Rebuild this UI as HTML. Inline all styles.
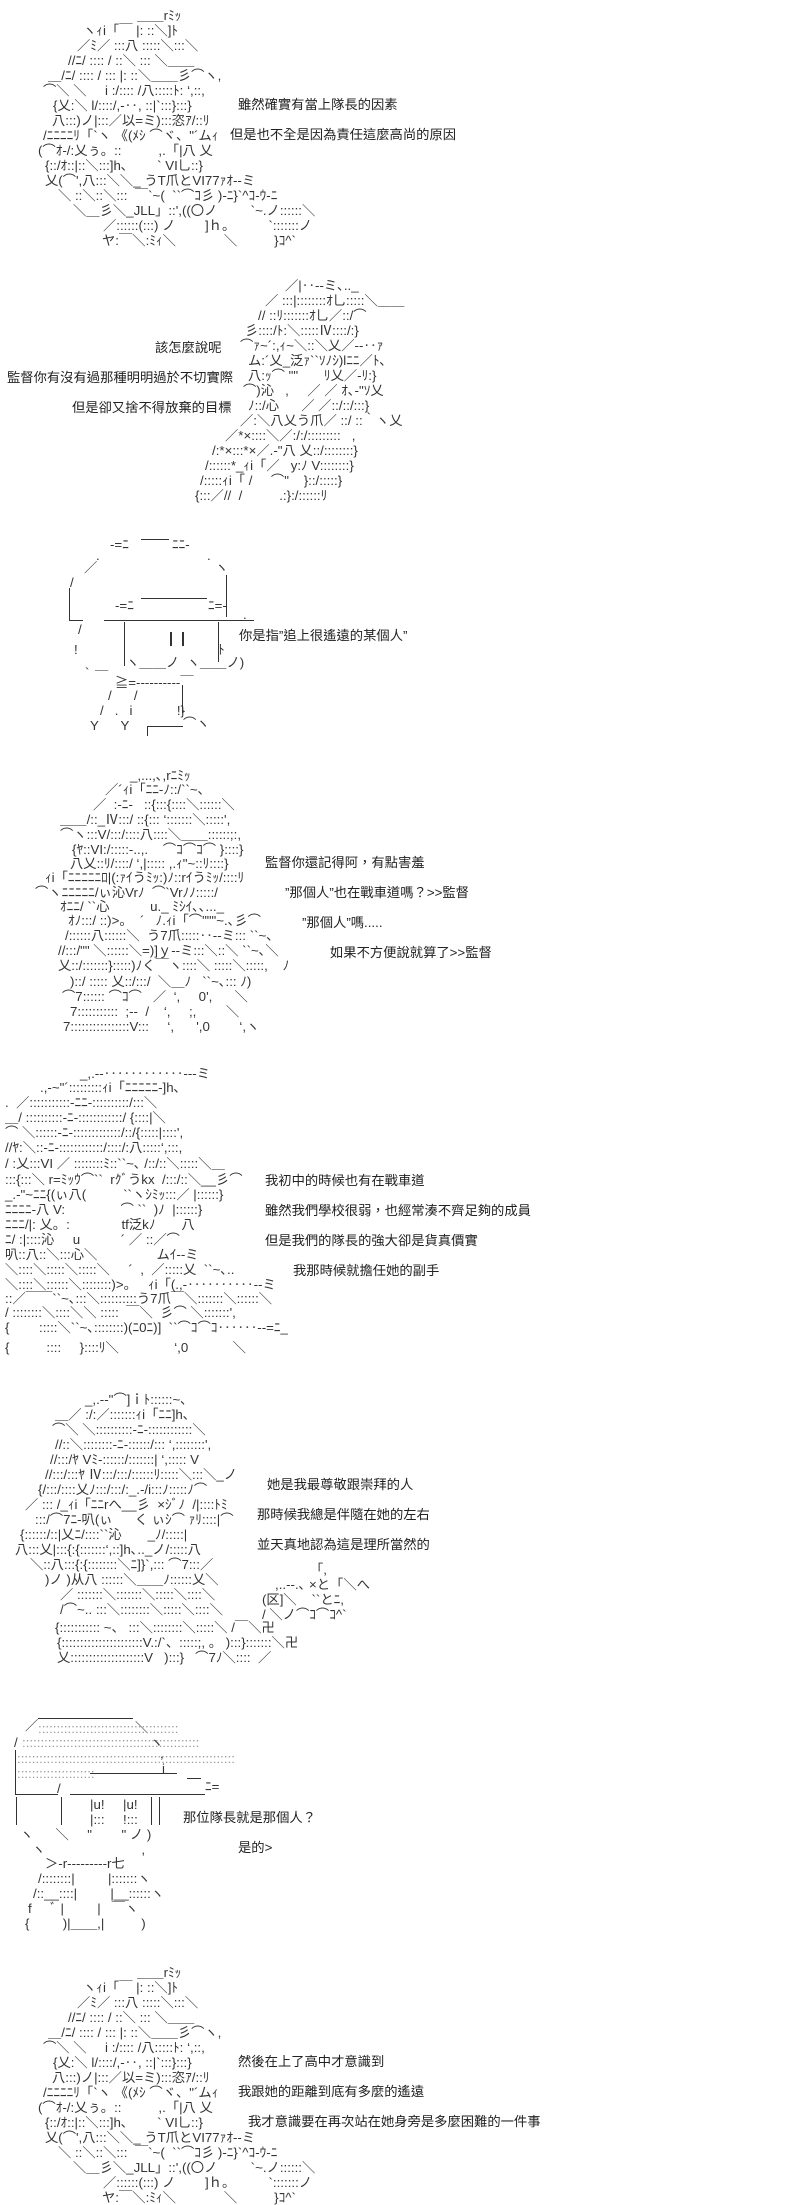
<!DOCTYPE html>
<html><head><meta charset="utf-8">
<style>
html,body{margin:0;padding:0;background:#fff;}
body{width:800px;height:2199px;position:relative;overflow:hidden;}
.l{position:absolute;white-space:pre;font:13.3px/15px "Liberation Sans","Noto Sans CJK JP",sans-serif;color:#333;}
.t{position:absolute;white-space:pre;font:13.3px/15px "Liberation Sans","Noto Sans CJK TC",sans-serif;color:#222;}
.h{position:absolute;border-top:1px solid #333;height:0;}
.v{position:absolute;border-left:1px solid #333;width:0;}
</style></head><body>

<!-- Panel 1 -->
<div class="l" style="left:137px;top:8px">＿＿rﾐｯ</div>
<div class="l" style="left:83px;top:23px">ヽｨi「￣ |: ::＼]ﾄ</div>
<div class="l" style="left:77px;top:38px">／ﾐ／ :::八 :::::＼:::＼</div>
<div class="l" style="left:68px;top:53px">//ﾆ/ :::: / ::＼ ::: ＼＿＿</div>
<div class="l" style="left:48px;top:68px">＿/ﾆ/ :::: / ::: |: ::＼＿＿彡⌒ヽ,</div>
<div class="l" style="left:43px;top:83px">⌒＼ ＼     i :/:::: /八:::::ﾄ: ‘,::,</div>
<div class="l" style="left:53px;top:98px">{乂:＼ l/::::/,-‥, ::|`:::}:::}</div>
<div class="l" style="left:52px;top:113px">八:::)ノ|:::／以=ミ):::恣ｱ/::ﾘ</div>
<div class="l" style="left:43px;top:128px">/ﾆﾆﾆﾆﾘ「`ヽ 《(ﾒｼ ⌒ヾ、"´ムｨ</div>
<div class="l" style="left:38px;top:143px">(⌒ｵ-/:乂ぅ。::          ,.「|八 乂</div>
<div class="l" style="left:45px;top:158px">{::/ｵ::|::＼:::]h､        ` VI乚::}</div>
<div class="l" style="left:45px;top:173px">乂(⌒',八:::＼＼_ うT爪とVI77ｧｵ--ミ</div>
<div class="l" style="left:58px;top:188px">＼ ::＼::＼:::  ￣`~(  ``⌒ｺ彡 )-ﾆ}`^ｺ‐ｳ-ﾆ</div>
<div class="l" style="left:73px;top:203px">＼＿彡＼_JLL」::',((〇ノ         `~.ノ::::::＼</div>
<div class="l" style="left:103px;top:218px">／::::::(:::) ノ        ]ｈ。         `:::::::ノ</div>
<div class="l" style="left:102px;top:233px">ヤ:￣＼:ﾐｨ＼             ＼          }ｺ^`</div>
<div class="t" style="left:238px;top:97px">雖然確實有當上隊長的因素</div>
<div class="t" style="left:230px;top:127px">但是也不全是因為責任這麼高尚的原因</div>

<!-- Panel 2 -->
<div class="l" style="left:285px;top:278px">／|‥--ミ､.._</div>
<div class="l" style="left:265px;top:293px">／ :::|::::::::ｵ乚:::::＼＿＿</div>
<div class="l" style="left:258px;top:308px">// ::ﾘ:::::::ｵ乚／::/⌒</div>
<div class="l" style="left:245px;top:323px">彡::::/ﾄ:＼:::::Ⅳ::::/:}</div>
<div class="l" style="left:240px;top:338px">⌒ｧ~´:,ｨ~＼::＼乂／--‥ｧ</div>
<div class="l" style="left:248px;top:353px">ム:´乂_泛ｧ``ｿﾉｼ)lﾆﾆ／ﾄ､</div>
<div class="l" style="left:248px;top:368px">八:ｯ⌒ ""       ﾘ乂／-ﾘ:}</div>
<div class="l" style="left:243px;top:383px">⌒)沁   ,     ／ ／ ｵ､-"ｿ乂</div>
<div class="l" style="left:248px;top:398px">ﾉ::/心      ／ ／::/::/:::}</div>
<div class="l" style="left:240px;top:413px">／:＼八乂う爪／ ::/ ::｀ヽ乂</div>
<div class="l" style="left:225px;top:428px">／*×::::＼／:/:/:::::::::   ,</div>
<div class="l" style="left:212px;top:443px">/:*×:::*×／.-"八 乂::/::::::::}</div>
<div class="l" style="left:205px;top:458px">/::::::*_ｨi「／   y:ﾉ V::::::::}</div>
<div class="l" style="left:200px;top:473px">/:::::ｨi「 /     ⌒"    }::/:::::}</div>
<div class="l" style="left:195px;top:488px">{:::／//  /          .:}:/::::::ﾘ</div>
<div class="t" style="left:155px;top:340px">該怎麼說呢</div>
<div class="t" style="left:7px;top:370px">監督你有沒有過那種明明過於不切實際</div>
<div class="t" style="left:72px;top:400px">但是卻又捨不得放棄的目標</div>

<!-- Panel 3 -->
<div class="l" style="left:110px;top:537px">-=ﾆ</div>
<div class="h" style="left:141px;top:539px;width:28px"></div>
<div class="l" style="left:172px;top:537px">ﾆﾆ-</div>
<div class="l" style="left:96px;top:548px">.</div>
<div class="l" style="left:207px;top:548px">.</div>
<div class="l" style="left:215px;top:560px">ヽ</div>
<div class="l" style="left:84px;top:560px">／</div>
<div class="l" style="left:70px;top:575px">/</div>
<div class="v" style="left:226px;top:575px;height:42px"></div>
<div class="v" style="left:69px;top:588px;height:32px"></div>
<div class="l" style="left:115px;top:598px">-=ﾆ</div>
<div class="h" style="left:141px;top:598px;width:66px"></div>
<div class="l" style="left:208px;top:598px">ﾆ=-</div>
<div class="l" style="left:243px;top:607px">.</div>
<div class="h" style="left:69px;top:620px;width:14px"></div>
<div class="h" style="left:104px;top:620px;width:150px"></div>
<div class="v" style="left:124px;top:622px;height:44px"></div>
<div class="v" style="left:218px;top:622px;height:40px"></div>
<div class="v" style="left:170px;top:632px;height:14px;border-left-width:2px"></div>
<div class="v" style="left:182px;top:632px;height:14px;border-left-width:2px"></div>
<div class="l" style="left:78px;top:622px">/</div>
<div class="l" style="left:74px;top:642px">!</div>
<div class="l" style="left:218px;top:642px">ﾄ</div>
<div class="l" style="left:126px;top:655px">ヽ＿＿ノ  ヽ＿＿ノ)</div>
<div class="l" style="left:85px;top:665px">`</div>
<div class="l" style="left:95px;top:670px">￣</div>
<div class="l" style="left:115px;top:675px">≧=----------￣</div>
<div class="v" style="left:182px;top:685px;height:28px"></div>
<div class="l" style="left:108px;top:688px">/      /</div>
<div class="l" style="left:100px;top:703px">/   .   i            !}</div>
<div class="l" style="left:90px;top:718px">Y      Y</div>
<div class="h" style="left:147px;top:726px;width:36px"></div>
<div class="v" style="left:147px;top:726px;height:10px"></div>
<div class="l" style="left:183px;top:716px">⌒ヽ</div>
<div class="t" style="left:239px;top:628px">你是指”追上很遙遠的某個人”</div>

<!-- Panel 4 -->
<div class="l" style="left:130px;top:768px">_,...,､,rﾆﾐｯ</div>
<div class="l" style="left:105px;top:782px">／´ｨi「ﾆﾆ-ﾉ::/``~､</div>
<div class="l" style="left:93px;top:797px">／  :-ﾆ-   ::{:::{::::＼::::::＼</div>
<div class="l" style="left:60px;top:812px">＿＿/::_Ⅳ:::/ ::{::: ‘:::::::＼:::::',</div>
<div class="l" style="left:60px;top:827px">⌒ヽ:::V/:::/::::八::::＼＿＿::::::;:,</div>
<div class="l" style="left:72px;top:842px">{ﾔ::VI:/:::::-..,.    ⌒ｺ⌒ｺ⌒ }::::}</div>
<div class="l" style="left:70px;top:856px">八乂::ﾘ/::::/ ‘,|::::: ,.ｨ"~::ﾘ::::}</div>
<div class="l" style="left:45px;top:870px">ｨi「ﾆﾆﾆﾆﾆﾛ|(:ｧｲうﾐｯ:)ﾉ::rｲうﾐｯ/::::ﾘ</div>
<div class="l" style="left:35px;top:885px">⌒ヽﾆﾆﾆﾆﾆ/ぃ沁Vrﾉ  ⌒`Vrﾉﾉ:::::/</div>
<div class="l" style="left:60px;top:899px">ｵﾆﾆ/ ``心           u._ ﾐｼｲ､､..._</div>
<div class="l" style="left:68px;top:913px">ｵﾉ:::/ ::)>。  ´   ﾉ.ｨi「⌒"""~.､彡⌒</div>
<div class="l" style="left:65px;top:928px">/::::::八::::::＼  う7爪:::::‥--ミ::: ``~､</div>
<div class="l" style="left:58px;top:943px">//:::/"" ＼::::::＼=)]ｙ--ミ:::＼::＼ ``~､＼</div>
<div class="l" style="left:58px;top:958px">乂::/:::::::}:::::)ﾉく￣ヽ::::＼ :::::＼:::::,    ﾉ</div>
<div class="l" style="left:70px;top:974px">)::/ ::::: 乂::/:::/  ＼＿ﾉ   ``~､::: ﾉ)</div>
<div class="l" style="left:62px;top:989px">⌒7:::::: ⌒ｺ⌒   ／  ‘,     0',      ＼</div>
<div class="l" style="left:70px;top:1004px">7:::::::::::  ;--  /    ‘,     ;,        ＼</div>
<div class="l" style="left:63px;top:1019px">7::::::::::::::::V:::     ‘,      ',0        ‘,ヽ</div>
<div class="t" style="left:265px;top:855px">監督你還記得阿，有點害羞</div>
<div class="t" style="left:285px;top:885px">”那個人”也在戰車道嗎？&gt;&gt;監督</div>
<div class="t" style="left:302px;top:915px">”那個人”嗎.....</div>
<div class="t" style="left:330px;top:945px">如果不方便說就算了&gt;&gt;監督</div>

<!-- Panel 5 -->
<div class="l" style="left:80px;top:1066px">_,.--‥‥‥‥‥‥---ミ</div>
<div class="l" style="left:40px;top:1080px">.,-~"´:::::::::ｨi「ﾆﾆﾆﾆﾆ-]h､</div>
<div class="l" style="left:5px;top:1095px">.  ／:::::::::::-ﾆﾆ-::::::::::/:::＼</div>
<div class="l" style="left:5px;top:1110px">＿/ ::::::::::-ﾆ-::::::::::::/ {::::|＼</div>
<div class="l" style="left:5px;top:1125px">⌒ ＼::::::-ﾆ-:::::::::::::/::/{:::::|::::',</div>
<div class="l" style="left:5px;top:1140px">//ﾔ:＼::-ﾆ-::::::::::::/::::/:八:::::‘,:::,</div>
<div class="l" style="left:5px;top:1156px">/ :乂:::VI ／ ::::::::ﾐ::``~､ /::/::＼:::::＼＿</div>
<div class="l" style="left:5px;top:1172px">:::{:::＼ r=ﾐｯｳ⌒``  rｸﾞうkx  /:::/::＼__彡⌒</div>
<div class="l" style="left:5px;top:1187px">_.-"~ﾆﾆ{(ぃ八(          ``ヽｼﾐｯ:::／ |::::::}</div>
<div class="l" style="left:5px;top:1202px">ﾆﾆﾆﾆ-八 V:               ⌒ ``  )ﾉ  |::::::}</div>
<div class="l" style="left:5px;top:1217px">ﾆﾆﾆ/|: 乂。:              tf泛kﾉ       八</div>
<div class="l" style="left:5px;top:1232px">ﾆ/ :|::::沁     u           ´ ／ ::／⌒</div>
<div class="l" style="left:5px;top:1247px">叭::八::＼:::心＼                ムｲ--ミ</div>
<div class="l" style="left:5px;top:1262px">＼::::＼:::::＼:::::＼     ´  ,  ／:::::乂  ``~､..</div>
<div class="l" style="left:5px;top:1277px">＼::::＼::::::＼::::::::)>。   ｨi「(.,-‥‥‥‥‥--ミ</div>
<div class="l" style="left:5px;top:1291px">::／￣￣``~､:::＼::::::::::う7爪￣＼:::::::＼::::::＼</div>
<div class="l" style="left:5px;top:1305px">/ ::::::::＼::::＼＼ :::::  ￣＼  彡⌒ ＼:::::::',</div>
<div class="l" style="left:5px;top:1320px">{        :::::＼``~､::::::::)(ﾆ0ﾆ)]  ``⌒ｺ⌒ｺ‥‥‥--=ﾆ_</div>
<div class="l" style="left:5px;top:1340px">{          ::::     }::::ﾘ＼               ‘,0            ＼</div>
<div class="t" style="left:265px;top:1173px">我初中的時候也有在戰車道</div>
<div class="t" style="left:265px;top:1203px">雖然我們學校很弱，也經常湊不齊足夠的成員</div>
<div class="t" style="left:265px;top:1233px">但是我們的隊長的強大卻是貨真價實</div>
<div class="t" style="left:293px;top:1263px">我那時候就擔任她的副手</div>

<!-- Panel 6 -->
<div class="l" style="left:85px;top:1392px">_,.-‐"⌒]ｉﾄ::::::~､</div>
<div class="l" style="left:55px;top:1407px">＿／ :/:／:::::::ｨi「ﾆﾆ]h､</div>
<div class="l" style="left:52px;top:1422px">⌒＼ ＼::::::::::-ﾆ-::::::::::::＼</div>
<div class="l" style="left:55px;top:1437px">//::＼::::::::-ﾆ-::::::/::: ‘,::::::::',</div>
<div class="l" style="left:50px;top:1452px">//:::/ﾔ Vﾐ-::::::/:::::::| ‘,::::: V</div>
<div class="l" style="left:45px;top:1467px">//:::/:::ﾔ Ⅳ:::/:::/::::::ﾘ:::::＼:::＼_ノ</div>
<div class="l" style="left:38px;top:1482px">{/:::/::::乂ﾉ:::/:::/:_.-/i:::ﾉ:::::ﾉ⌒</div>
<div class="l" style="left:25px;top:1497px">／ ::: /_ｨi「ﾆﾆrへ__彡  ×ｼﾞﾉ  /|::::ﾄﾐ</div>
<div class="l" style="left:35px;top:1512px">:::/⌒7ﾆ-叭(ぃ      く ぃｼ⌒ ｧﾘ::::|⌒</div>
<div class="l" style="left:20px;top:1527px">{::::::/::|乂ﾆ/::::``沁       _ﾉ/:::::|</div>
<div class="l" style="left:15px;top:1542px">八:::乂|:::{:{:::::::‘,::]h､.._ノ/:::::八</div>
<div class="l" style="left:30px;top:1557px">＼::八:::{:{::::::::＼ﾆ]}`,::: ⌒7:::／</div>
<div class="l" style="left:45px;top:1572px">)ノ )从八 ::::::＼＿＿ﾉ::::::乂＼</div>
<div class="l" style="left:60px;top:1587px">／ :::::::＼:::::::＼:::::＼::::＼</div>
<div class="l" style="left:60px;top:1602px">/⌒~.. :::＼::::::::＼:::::＼::::＼</div>
<div class="l" style="left:55px;top:1620px">{::::::::::: ~、 :::＼::::::::＼:::::＼ /￣＼卍</div>
<div class="l" style="left:57px;top:1635px">{::::::::::::::::::::::V.:/`、:::::;, 。 ):::}:::::::＼卍</div>
<div class="l" style="left:57px;top:1650px">乂::::::::::::::::::::V   ):::}   ⌒7ﾉ＼::::  ／</div>
<div class="l" style="left:310px;top:1562px">「,</div>
<div class="l" style="left:275px;top:1577px">,..--.､ ×と「＼へ</div>
<div class="l" style="left:262px;top:1592px">(区]＼    ``とﾆ,</div>
<div class="l" style="left:262px;top:1607px">/ ＼ノ⌒ｺ⌒ｺ^`</div>
<div class="t" style="left:267px;top:1477px">她是我最尊敬跟崇拜的人</div>
<div class="t" style="left:257px;top:1507px">那時候我總是伴隨在她的左右</div>
<div class="t" style="left:257px;top:1537px">並天真地認為這是理所當然的</div>

<!-- Panel 7 -->
<div class="h" style="left:38px;top:1718px;width:95px"></div>
<div class="l" style="left:25px;top:1718px">／</div>
<div class="l" style="left:135px;top:1720px">＼</div>
<div class="l" style="left:38px;top:1721px;color:#999">::::::::::::::::::::::::::::::::::::::</div>
<div class="l" style="left:14px;top:1735px">/</div>
<div class="l" style="left:150px;top:1735px">ヽ</div>
<div class="l" style="left:22px;top:1735px;color:#999">::::::::::::::::::::::::::::::::::::::::::::::::</div>
<div class="v" style="left:15px;top:1750px;height:45px"></div>
<div class="l" style="left:17px;top:1751px;color:#999">:::::::::::::::::::::::::::::::::::::::::::::::::::::::::::</div>
<div class="l" style="left:160px;top:1746px">,</div>
<div class="l" style="left:17px;top:1766px;color:#999">:::::::::::::::::::::</div>
<div class="h" style="left:90px;top:1773px;width:87px"></div>
<div class="l" style="left:162px;top:1761px">i</div>
<div class="h" style="left:187px;top:1778px;width:14px"></div>
<div class="l" style="left:205px;top:1779px">ﾆ=</div>
<div class="h" style="left:15px;top:1794px;width:43px"></div>
<div class="l" style="left:57px;top:1781px">/</div>
<div class="h" style="left:70px;top:1794px;width:135px"></div>
<div class="v" style="left:16px;top:1797px;height:28px"></div>
<div class="v" style="left:61px;top:1797px;height:28px"></div>
<div class="l" style="left:90px;top:1797px">|u!     |u!</div>
<div class="l" style="left:90px;top:1812px">|:::     !:::</div>
<div class="v" style="left:151px;top:1797px;height:28px"></div>
<div class="v" style="left:159px;top:1797px;height:28px"></div>
<div class="l" style="left:20px;top:1827px">ヽ      ＼     "        " ノ )</div>
<div class="l" style="left:32px;top:1842px">ヽ                          ,</div>
<div class="l" style="left:45px;top:1856px">＞‐r---------r七</div>
<div class="l" style="left:38px;top:1871px">/::::::::|         |:::::::ヽ</div>
<div class="l" style="left:33px;top:1886px">/::__::::|         |__::::::ヽ</div>
<div class="l" style="left:28px;top:1901px">f     ﾞ |         |   ￣ヽ</div>
<div class="l" style="left:25px;top:1916px">{         )|＿＿,|          )</div>
<div class="t" style="left:183px;top:1810px">那位隊長就是那個人？</div>
<div class="t" style="left:238px;top:1840px">是的&gt;</div>

<!-- Panel 8 -->
<div class="l" style="left:137px;top:1965px">＿＿rﾐｯ</div>
<div class="l" style="left:83px;top:1980px">ヽｨi「￣ |: ::＼]ﾄ</div>
<div class="l" style="left:77px;top:1995px">／ﾐ／ :::八 :::::＼:::＼</div>
<div class="l" style="left:68px;top:2010px">//ﾆ/ :::: / ::＼ ::: ＼＿＿</div>
<div class="l" style="left:48px;top:2025px">＿/ﾆ/ :::: / ::: |: ::＼＿＿彡⌒ヽ,</div>
<div class="l" style="left:43px;top:2040px">⌒＼ ＼     i :/:::: /八:::::ﾄ: ‘,::,</div>
<div class="l" style="left:53px;top:2055px">{乂:＼ l/::::/,-‥, ::|`:::}:::}</div>
<div class="l" style="left:52px;top:2070px">八:::)ノ|:::／以=ミ):::恣ｱ/::ﾘ</div>
<div class="l" style="left:43px;top:2085px">/ﾆﾆﾆﾆﾘ「`ヽ 《(ﾒｼ ⌒ヾ、"´ムｨ</div>
<div class="l" style="left:38px;top:2100px">(⌒ｵ-/:乂ぅ。::          ,.「|八 乂</div>
<div class="l" style="left:45px;top:2115px">{::/ｵ::|::＼:::]h､        ` VI乚::}</div>
<div class="l" style="left:45px;top:2130px">乂(⌒',八:::＼＼_ うT爪とVI77ｧｵ--ミ</div>
<div class="l" style="left:58px;top:2145px">＼ ::＼::＼:::  ￣`~(  ``⌒ｺ彡 )-ﾆ}`^ｺ‐ｳ-ﾆ</div>
<div class="l" style="left:73px;top:2160px">＼＿彡＼_JLL」::',((〇ノ         `~.ノ::::::＼</div>
<div class="l" style="left:103px;top:2175px">／::::::(:::) ノ        ]ｈ。         `:::::::ノ</div>
<div class="l" style="left:102px;top:2190px">ヤ:￣＼:ﾐｨ＼             ＼          }ｺ^`</div>
<div class="t" style="left:238px;top:2054px">然後在上了高中才意識到</div>
<div class="t" style="left:238px;top:2084px">我跟她的距離到底有多麼的遙遠</div>
<div class="t" style="left:248px;top:2114px">我才意識要在再次站在她身旁是多麼困難的一件事</div>

</body></html>
